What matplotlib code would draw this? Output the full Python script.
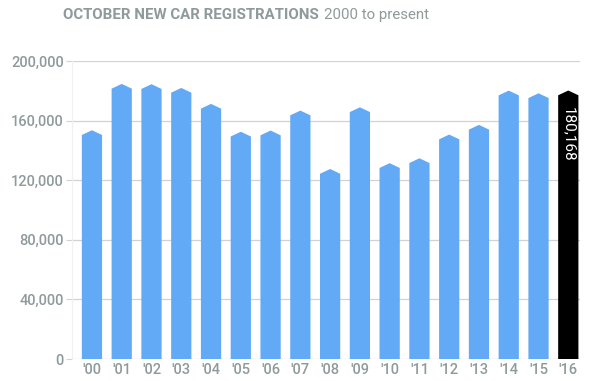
import matplotlib.pyplot as plt

years = ["'00", "'01", "'02", "'03", "'04", "'05", "'06", "'07", "'08",
         "'09", "'10", "'11", "'12", "'13", "'14", "'15", "'16"]
values = [153500, 184600, 184400, 181900, 171200, 152500, 153300, 166700,
          127500, 168900, 131400, 134700, 150600, 157100, 180100, 178300, 180168]
yticks = [0, 40000, 80000, 120000, 160000, 200000]
ylabels = ['0', '40,000', '80,000', '120,000', '160,000', '200,000']

grey = '#8f9a9b'
blue = '#63aaf6'

fig = plt.figure(figsize=(6, 3.81), dpi=100)
ax = fig.add_axes([0.12, 0.0577, 0.847, 0.7823])

w = 0.68
cap = 3200
for i, v in enumerate(values):
    col = 'black' if i == len(values) - 1 else blue
    xs = [i - w/2, i - w/2, i, i + w/2, i + w/2]
    ys = [0, v - cap, v, v - cap, 0]
    ax.fill(xs, ys, color=col, lw=0, zorder=3)

# label on last bar
last = len(values) - 1
ax.text(last, values[last] - 11000, f'{values[last]:,}', rotation=-90,
        color='white', ha='center', va='top', fontsize=11, family='Roboto', zorder=4)

ax.set_xlim(-0.67, 16.4)
ax.set_ylim(0, 200000)
ax.set_yticks(yticks)
ax.set_yticklabels(ylabels)
ax.set_xticks(range(len(years)))
ax.set_xticklabels(years)
ax.grid(axis='y', color='#d2d2d2', lw=0.9, zorder=0)
ax.set_axisbelow(True)
for s in ['top', 'right', 'bottom']:
    ax.spines[s].set_visible(False)
ax.spines['left'].set_color('#f0f0f0')
ax.tick_params(axis='y', length=4, color='#d2d2d2', labelsize=10.5, pad=2)
ax.tick_params(axis='x', length=0, labelsize=10.5, pad=3)
for t in ax.get_yticklabels() + ax.get_xticklabels():
    t.set_family('Roboto')
    t.set_color(grey)
    t.set_fontweight('medium')

t1 = fig.text(0.105, 0.96, 'OCTOBER NEW CAR REGISTRATIONS', fontsize=10.8, fontweight='bold',
              color=grey, family='Roboto', va='center', ha='left')
ax.annotate('2000 to present', xy=(1, 0.5), xycoords=t1, xytext=(4, 0),
            textcoords='offset points', fontsize=10.8, color=grey, family='Roboto',
            va='center', ha='left')

fig.savefig('out.png', dpi=100)
